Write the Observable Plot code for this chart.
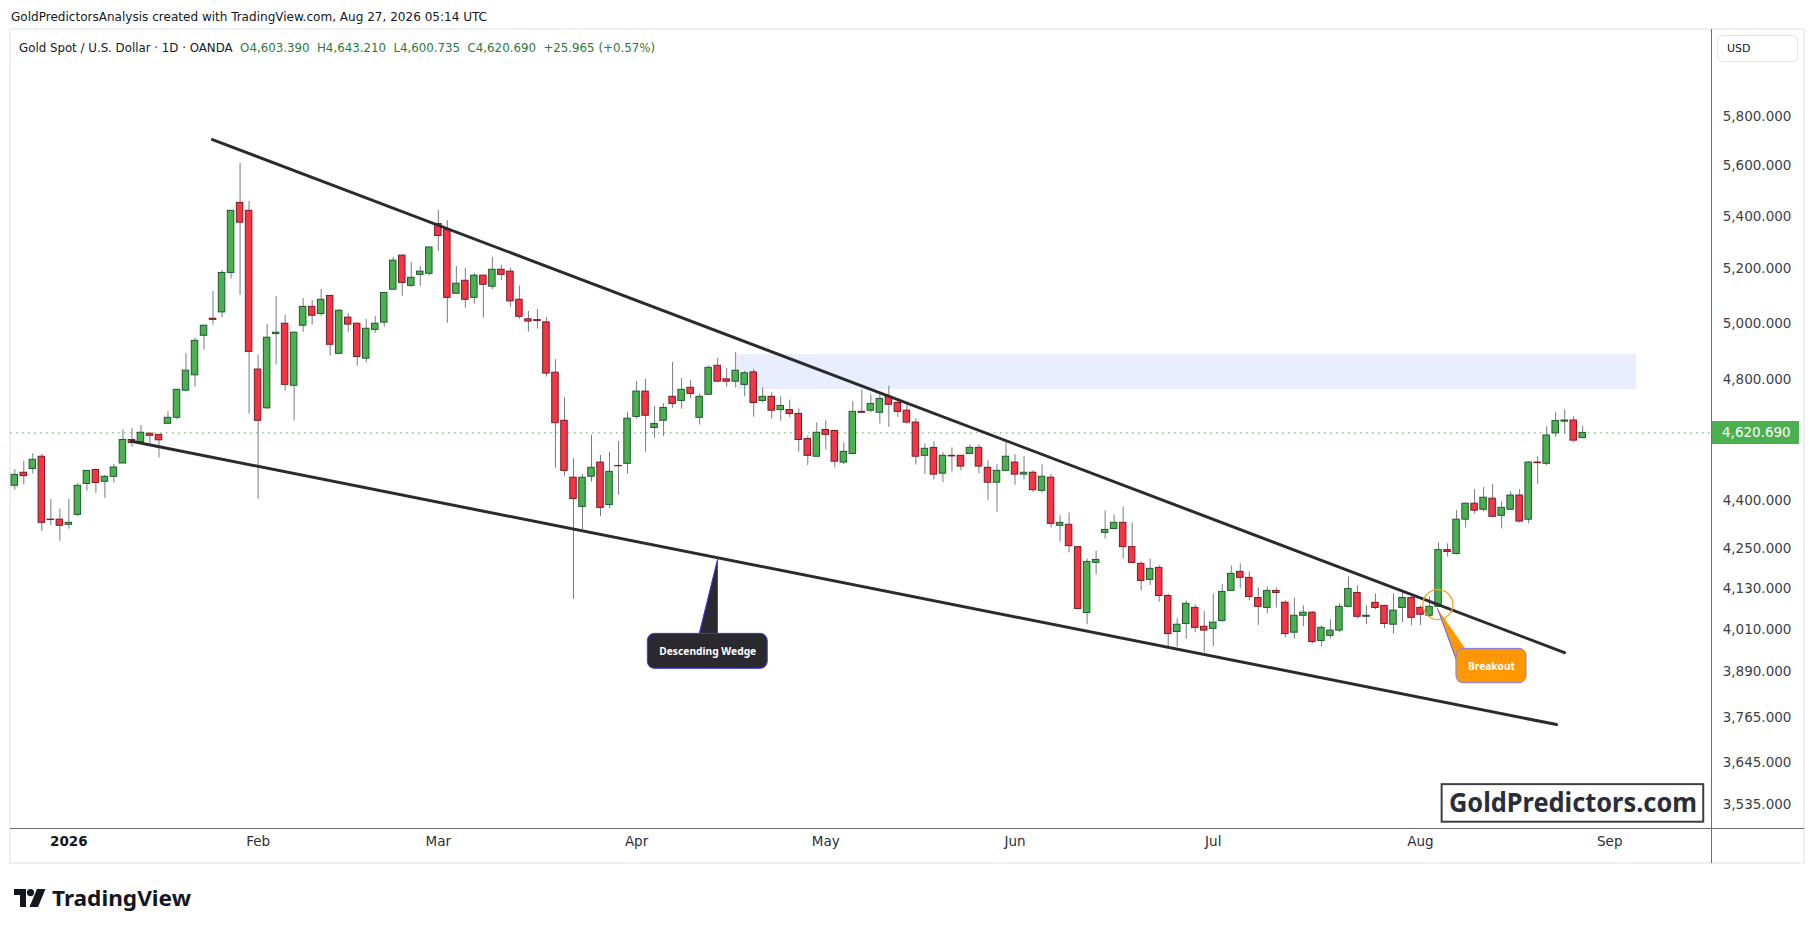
<!DOCTYPE html>
<html>
<head>
<meta charset="utf-8">
<script src="https://cdn.jsdelivr.net/npm/d3@7"></script>
<script src="https://cdn.jsdelivr.net/npm/@observablehq/plot@0.6"></script>
<style>
  html, body { margin: 0; padding: 0; background: #ffffff; }
  #root { position: relative; width: 1814px; height: 932px; overflow: hidden; background: #fff; font-family: "DejaVu Sans", sans-serif; color: #131722; }
  .abs { position: absolute; white-space: nowrap; }
  .fit { display: inline-block; transform-origin: 0 50%; }
</style>
</head>
<body>
<div id="root">
  <div class="abs" style="left:11px; top:8px; height:18px; line-height:18px; font-size:13px;"><span class="fit" data-w="476" style="font-family:'DejaVu Sans Condensed','DejaVu Sans',sans-serif;">GoldPredictorsAnalysis created with TradingView.com, Aug 27, 2026 05:14 UTC</span></div>
  <div id="frame" class="abs" style="left:9px; top:28px; width:1796px; height:836px; box-sizing:border-box; border:2px solid #eef0f4;"></div>
  <div id="plotwrap" class="abs" style="left:10px; top:29px;"></div>
  <div class="abs" style="left:19px; top:39px; height:18px; line-height:18px; font-size:13px;"><span class="fit" data-w="636" style="font-family:'DejaVu Sans Condensed','DejaVu Sans',sans-serif;"><span style="color:#131722">Gold Spot / U.S. Dollar · 1D · OANDA</span>&nbsp;&nbsp;<span style="color:#2b7a3d">O4,603.390&nbsp;&nbsp;H4,643.210&nbsp;&nbsp;L4,600.735&nbsp;&nbsp;C4,620.690&nbsp;&nbsp;+25.965 (+0.57%)</span></span></div>
  <div class="abs" style="left:1717px; top:35px; width:81px; height:27px; box-sizing:border-box; border:1px solid #e0e3eb; border-radius:5px; background:#fff;"></div>
  <div class="abs" style="left:1727px; top:41px; height:16px; line-height:16px; font-size:11px; color:#131722;">USD</div>
  <div class="abs" style="left:10px; top:828px; width:1794px; height:1px; background:#6a6d78;"></div>
  <div class="abs" style="left:1711px; top:29px; width:1px; height:834px; background:#6a6d78;"></div>
  <div id="pricebox" class="abs" style="left:1712px; width:87px; height:23px; line-height:23px; background:#4caf50; color:#fff; font-size:13.5px; padding-left:10px; box-sizing:border-box;">4,620.690</div>
  <div class="abs" style="left:14px; top:889px;">
    <svg width="32" height="18" viewBox="0 0 32 18"><path d="M0 0h12v18H6V6H0z" fill="#131722"/><circle cx="16.5" cy="3.6" r="3.6" fill="#131722"/><path d="M23 0h8.5l-7.5 18h-8.5z" fill="#131722"/></svg>
  </div>
  <div class="abs" style="left:52px; top:886px; height:24px; line-height:24px; font-size:21px; font-weight:bold; color:#131722;"><span class="fit" data-w="139" style="font-family:'Noto Sans',sans-serif;">TradingView</span></div>
</div>
<script>
// ---------- data ----------
const opens = [4448,4490,4502,4542,4341,4341,4325,4356,4454,4499,
  4461,4477,4520,4597,4590,4618,4614,4651,4671,4763,
  4816,4955,5016,5039,5184,5452,5421,4836,4703,4961,
  4998,4780,4991,5059,5033,5099,4891,5020,4998,4874,
  4976,5002,5122,5249,5136,5177,5181,5370,5347,5107,
  5155,5092,5174,5133,5196,5189,5085,5014,5011,5003,
  4825,4661,4474,4381,4477,4523,4387,4512,4519,4674,
  4760,4637,4661,4742,4728,4773,4671,4749,4849,4802,
  4794,4783,4826,4728,4742,4697,4697,4684,4600,4542,
  4630,4627,4523,4551,4691,4695,4688,4742,4721,4695,
  4655,4545,4571,4487,4545,4545,4551,4571,4506,4458,
  4496,4523,4484,4490,4432,4474,4322,4325,4256,4059,
  4208,4300,4312,4331,4256,4205,4157,4193,4109,4004,
  4027,4074,4019,4013,4036,4124,4181,4163,4103,4074,
  4124,4089,4002,4051,4060,3978,3993,4008,4077,4118,
  4048,4089,4080,4025,4074,4103,4074,4051,4077,4247,
  4235,4341,4391,4372,4407,4353,4372,4417,4341,4523,
  4519,4619,4658,4662,4603.39];
const highs = [4500,4527,4552,4549,4404,4374,4404,4456,4496,4499,
  4481,4517,4631,4635,4645,4618,4614,4692,4766,4892,
  4946,4991,5115,5193,5421,5609,5457,4886,4996,5097,
  5028,4966,5089,5082,5123,5099,5050,5035,5000,5013,
  5024,5110,5242,5253,5223,5208,5280,5422,5383,5208,
  5201,5182,5174,5242,5212,5201,5135,5042,5050,5021,
  4871,4740,4536,4484,4613,4546,4556,4592,4689,4795,
  4802,4709,4719,4861,4805,4798,4752,4849,4875,4840,
  4896,4830,4837,4773,4756,4742,4731,4701,4610,4654,
  4661,4630,4588,4726,4766,4749,4749,4778,4735,4715,
  4668,4584,4591,4555,4571,4545,4581,4581,4529,4516,
  4594,4549,4542,4496,4516,4484,4353,4362,4256,4220,
  4244,4368,4356,4381,4331,4211,4220,4199,4115,4042,
  4095,4083,4063,4115,4143,4199,4205,4181,4133,4136,
  4133,4095,4103,4080,4063,4022,4040,4086,4166,4139,
  4080,4115,4080,4115,4118,4112,4080,4106,4269,4266,
  4369,4394,4436,4442,4452,4397,4429,4436,4526,4542,
  4641,4690,4698,4675,4643.21];
const lows = [4434,4451,4486,4304,4323,4274,4311,4351,4431,4424,
  4408,4456,4520,4573,4590,4584,4538,4651,4664,4759,
  4775,4904,4993,5020,5161,5101,4684,4405,4699,4852,
  4762,4660,4967,4993,5025,4883,4891,4967,4848,4859,
  4964,4986,5122,5098,5131,5134,5172,5265,5000,5107,
  5054,5069,5018,5122,5156,5057,5014,4968,4979,4810,
  4505,4479,4099,4309,4460,4351,4376,4418,4485,4666,
  4557,4603,4609,4703,4700,4735,4647,4749,4790,4775,
  4772,4742,4673,4721,4666,4660,4671,4557,4513,4542,
  4564,4506,4516,4551,4688,4688,4650,4639,4673,4650,
  4515,4484,4467,4458,4493,4496,4551,4487,4402,4364,
  4493,4450,4467,4427,4425,4315,4272,4238,4068,4025,
  4172,4281,4309,4220,4205,4124,4140,4091,3958,3961,
  3983,4002,3945,3961,4032,4124,4130,4095,4023,4057,
  4074,3987,3984,4019,3970,3961,3984,4002,4077,4042,
  4025,4068,4013,3998,4031,4022,4022,4045,4077,4226,
  4232,4315,4358,4366,4347,4312,4372,4331,4328,4453,
  4512,4606,4616,4588,4600.735];
const closes = [4483,4479,4532,4331,4340,4322,4331,4448,4496,4457,
  4477,4507,4597,4587,4621,4611,4596,4671,4766,4832,
  4937,4991,5012,5184,5421,5375,4898,4661,4948,4966,
  4783,4966,5059,5027,5085,4923,5045,4995,4880,4980,
  4998,5110,5230,5147,5166,5189,5280,5324,5092,5144,
  5085,5174,5140,5196,5177,5079,5023,5006,5008,4822,
  4653,4496,4406,4474,4506,4378,4493,4511,4668,4760,
  4678,4650,4704,4718,4766,4752,4742,4842,4794,4794,
  4832,4823,4721,4742,4695,4711,4684,4597,4545,4621,
  4614,4526,4558,4691,4688,4718,4735,4715,4691,4655,
  4542,4568,4484,4545,4543,4510,4571,4510,4458,4496,
  4542,4484,4490,4434,4477,4328,4331,4259,4071,4211,
  4217,4309,4331,4256,4208,4154,4190,4109,3998,4025,
  4086,4016,4008,4031,4121,4175,4163,4106,4077,4124,
  4118,3998,4051,4060,3975,4016,4008,4077,4130,4048,
  4051,4074,4027,4066,4103,4045,4054,4077,4247,4241,
  4341,4391,4369,4410,4350,4378,4417,4335,4523,4521,
  4612,4660,4662,4595,4620.69];

// x axis: bar index of the first bar of each month, and its label
const monthIndex = [6, 27, 47, 69, 90, 111, 133, 156, 177];
const monthLabels = ["2026", "Feb", "Mar", "Apr", "May", "Jun", "Jul", "Aug", "Sep"];
// y axis tick values (TradingView log scale)
const yTicks = [5800, 5600, 5400, 5200, 5000, 4800, 4400, 4250, 4130, 4010, 3890, 3765, 3645, 3535];
const lastPrice = 4620.69;

// drawings (bar index, price)
const upperLine = [{x: 21.94, y: 5706}, {x: 171.98, y: 3945}];
const lowerLine = [{x: 12.95, y: 4593}, {x: 171.1, y: 3746}];
const zoneX = [80.2, 180];
const zoneY = [4767, 4888];
const wedgeBox = [{x1: 70.25, x2: 83.56, y1: 3899.2, y2: 3998.6}];
const wedgePointer = [{x: 75.87, y: 3990.8}, {x: 78.02, y: 4222.7}, {x: 78.02, y: 3990.8}];
const wedgeLabel = [{x: 76.9, y: 3948.6, text: "Descending Wedge"}];
const breakoutCircle = [{x: 157.92, y: 4083.8}];
const breakoutBox = [{x1: 159.99, x2: 167.76, y1: 3859, y2: 3955.7}];
const breakoutPointer = [{x: 160.0, y: 3922.5}, {x: 157.89, y: 4072}, {x: 161.1, y: 3950.8}, {x: 161.0, y: 3925}];
const breakoutLabel = [{x: 163.88, y: 3907, text: "Breakout"}];
const brandBox = [{x1: 158.4, x2: 187.43, y1: 3491.9, y2: 3587.6}];
const brandLabel = [{x: 172.92, y: 3538.9, text: "GoldPredictors.com"}];

// ---------- build ----------
const bars = opens.map((o, i) => ({i, open: o, high: highs[i], low: lows[i], close: closes[i]}));
const up = bars.filter(d => d.close >= d.open);
const down = bars.filter(d => d.close < d.open);
const months = monthIndex.map((m, k) => ({x: m, label: monthLabels[k]}));
const W = 1794, H = 834;
const bw = 0.36;

const chart = Plot.plot({
  width: W, height: H,
  marginLeft: 0, marginRight: 92.3, marginTop: 0, marginBottom: 34.7,
  x: {type: "linear", domain: [-0.477, 188.37], axis: null},
  y: {type: "log", domain: [3475.4, 6176.3]},
  style: {background: "transparent", overflow: "visible", fontFamily: "DejaVu Sans, sans-serif"},
  marks: [
    Plot.rect([0], {x1: () => zoneX[0], x2: () => zoneX[1], y1: () => zoneY[0], y2: () => zoneY[1], fill: "#e8eefd"}),
    Plot.ruleY([lastPrice], {stroke: "#4caf50", strokeWidth: 1, strokeDasharray: "1.5,4.5"}),
    Plot.ruleX(bars, {x: "i", y1: "low", y2: "high", stroke: "#787b86", strokeWidth: 1}),
    Plot.rect(up, {x1: d => d.i - bw, x2: d => d.i + bw, y1: "open", y2: "close", fill: "#4caf50", stroke: "#1e5a2f", strokeWidth: 1}),
    Plot.rect(down, {x1: d => d.i - bw, x2: d => d.i + bw, y1: "open", y2: "close", fill: "#f23645", stroke: "#7a1b24", strokeWidth: 1}),
    Plot.line(upperLine, {x: "x", y: "y", stroke: "#2b2b2e", strokeWidth: 3, strokeLinecap: "round"}),
    Plot.line(lowerLine, {x: "x", y: "y", stroke: "#2b2b2e", strokeWidth: 3, strokeLinecap: "round"}),
    // Descending wedge callout
    Plot.line(wedgePointer, {x: "x", y: "y", fill: "#2a2a2e", stroke: "none"}),
    Plot.line(wedgePointer.slice(0, 2), {x: "x", y: "y", stroke: "#3b3bf0", strokeWidth: 1}),
    Plot.rect(wedgeBox, {x1: "x1", x2: "x2", y1: "y1", y2: "y2", fill: "#2a2a2e", stroke: "#3b3bf0", strokeWidth: 1, rx: 7}),
    Plot.text(wedgeLabel, {x: "x", y: "y", text: "text", fill: "#ffffff", fontSize: 11, fontWeight: "bold", fontFamily: "Noto Sans, sans-serif"}),
    // Breakout callout
    Plot.dot(breakoutCircle, {x: "x", y: "y", r: 15, stroke: "#f7a21b", fill: "none", strokeWidth: 1.3}),
    Plot.line(breakoutPointer, {x: "x", y: "y", fill: "#ff9800", stroke: "none"}),
    Plot.line(breakoutPointer.slice(0, 2), {x: "x", y: "y", stroke: "#5b5bf5", strokeWidth: 1}),
    Plot.rect(breakoutBox, {x1: "x1", x2: "x2", y1: "y1", y2: "y2", fill: "#ff9800", stroke: "#7b7bf5", strokeWidth: 1, rx: 7}),
    Plot.text(breakoutLabel, {x: "x", y: "y", text: "text", fill: "#ffffff", fontSize: 11, fontWeight: "bold", fontFamily: "Noto Sans, sans-serif"}),
    // brand box
    Plot.rect(brandBox, {x1: "x1", x2: "x2", y1: "y1", y2: "y2", fill: "#ffffff", stroke: "#3d3f45", strokeWidth: 2}),
    Plot.text(brandLabel, {x: "x", y: "y", text: "text", fill: "#2a2e39", fontSize: 26, fontWeight: "bold", fontFamily: "Noto Sans, sans-serif"}),
    // axes
    Plot.axisY(yTicks, {anchor: "right", tickSize: 0, tickPadding: 10.5, tickFormat: d3.format(",.3f"), fontSize: 13.5, color: "#3b3f4a", label: null}),
    Plot.text(months.filter(d => d.label === "2026"), {x: "x", text: "label", frameAnchor: "bottom", dy: 17.5, fontSize: 13.5, fontWeight: "bold", fill: "#131722"}),
    Plot.text(months.filter(d => d.label !== "2026"), {x: "x", text: "label", frameAnchor: "bottom", dy: 17.5, fontSize: 13.5, fill: "#2a2e39"})
  ]
});

document.getElementById("plotwrap").appendChild(chart);

// exact widths for annotation texts
const fits = {"Descending Wedge": 97, "Breakout": 47, "GoldPredictors.com": 248};
d3.select(chart).selectAll("text").each(function () {
  const t = this.textContent;
  if (fits[t]) { this.setAttribute("textLength", fits[t]); this.setAttribute("lengthAdjust", "spacingAndGlyphs"); }
});

// last price label on the axis
const yPix = chart.scale("y").apply(lastPrice) + 29;
const pb = document.getElementById("pricebox");
pb.style.top = (yPix - 11.5) + "px";

// fit header texts to their widths
document.querySelectorAll(".fit").forEach(el => {
  const w = el.getBoundingClientRect().width;
  const target = +el.dataset.w;
  if (w > 0) el.style.transform = `scaleX(${target / w})`;
});
</script>
</body>
</html>
